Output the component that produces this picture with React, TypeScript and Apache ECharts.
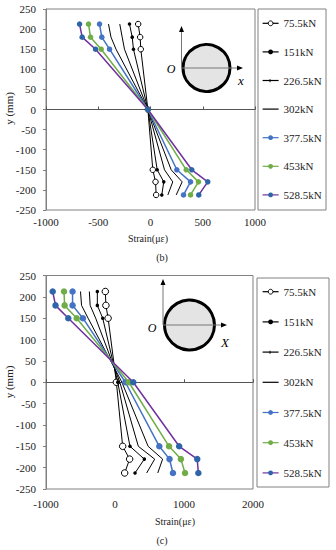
import React, { useEffect, useRef } from 'react';
import * as echarts from 'echarts';

const loads = ['75.5kN', '151kN', '226.5kN', '302kN', '377.5kN', '453kN', '528.5kN'];
const levels = [212.5, 180, 150, 0, -150, -180, -212.5];

// Chart (b) strains (µε) at each level, per load
const b755 = [-118, -99, -93, -25, 22, 48, 54];
const b151 = [-201, -175, -163, -25, 64, 127, 108];
const b2265 = [-294, -271, -249, -25, 134, 213, 166];
const b302 = [-402, -378, -330, -25, 198, 303, 246];
const b3775 = [-488, -466, -392, -25, 252, 383, 316];
const b453 = [-593, -574, -472, -25, 342, 459, 383];
const b5285 = [-679, -654, -526, -25, 395, 548, 462];

// Chart (c) strains (µε)
const c755 = [-140, -132, -100, 20, 111, 212, 140];
const c151 = [-256, -256, -178, 40, 217, 425, 290];
const c2265 = [-372, -360, -280, 70, 338, 575, 459];
const c302 = [-500, -485, -390, 100, 480, 690, 620];
const c3775 = [-615, -615, -465, 150, 642, 790, 840];
const c453 = [-739, -730, -555, 200, 783, 955, 1015];
const c5285 = [-903, -862, -677, 265, 930, 1192, 1208];

const strainsB = [b755, b151, b2265, b302, b3775, b453, b5285];
const strainsC = [c755, c151, c2265, c302, c3775, c453, c5285];

const xTicksB = { min: -1000, max: 1000, interval: 500 };
const xTicksC = { min: -1000, max: 2000, interval: 1000 };
const yTicks = { min: -250, max: 250, interval: 50 };

const FONT = 'Liberation Serif';
const TXT = '#222';
const CLEAR = 'rgba(0,0,0,0)';

function seriesStyle(i: number, big: boolean) {
  const s = big ? 6.5 : 5.5;
  const styles: any[] = [
    { symbol: 'circle', symbolSize: s, itemStyle: { color: '#fff', borderColor: '#000', borderWidth: 1 }, lineStyle: { color: '#000', width: 1 } },
    { symbol: 'circle', symbolSize: 3.5, itemStyle: { color: '#000' }, lineStyle: { color: '#000', width: 1 } },
    { symbol: 'none', itemStyle: { color: CLEAR }, lineStyle: { color: '#000', width: 1 } },
    { symbol: 'none', itemStyle: { color: CLEAR }, lineStyle: { color: '#000', width: 1 } },
    { symbol: 'circle', symbolSize: s, itemStyle: { color: '#4472C4' }, lineStyle: { color: '#4472C4', width: 1.5 } },
    { symbol: 'circle', symbolSize: s, itemStyle: { color: '#70AD47' }, lineStyle: { color: '#70AD47', width: 1.5 } },
    { symbol: 'circle', symbolSize: s, itemStyle: { color: '#2E64A8' }, lineStyle: { color: '#7030A0', width: 1.5 } },
  ];
  return styles[i];
}

function makeSeries(strains: number[][], xIdx: number, yIdx: number, big: boolean) {
  return strains.map((arr, i) => ({
    type: 'line',
    name: loads[i],
    xAxisIndex: xIdx,
    yAxisIndex: yIdx,
    data: arr.map((v, k) => [v, levels[k]]),
    showSymbol: true,
    z: 3 + i,
    ...seriesStyle(i, big),
  }));
}

const plain = (v: number) => String(v);

function mainX(gridIndex: number, ticks: any, margin: number) {
  return {
    type: 'value', gridIndex, ...ticks,
    axisLine: { show: false, onZero: false },
    axisTick: { show: false },
    splitLine: { show: false },
    axisLabel: { fontFamily: FONT, fontSize: 11, color: TXT, margin, formatter: plain },
  };
}
function zeroX(gridIndex: number, ticks: any) {
  return {
    type: 'value', gridIndex, ...ticks, position: 'bottom',
    axisLine: { show: true, onZero: true, lineStyle: { color: '#555', width: 1 } },
    axisTick: { show: true, inside: true, length: 3, lineStyle: { color: '#555' } },
    splitLine: { show: false },
    axisLabel: { show: false },
  };
}
function yAx(gridIndex: number) {
  return {
    type: 'value', gridIndex, ...yTicks,
    axisLine: { show: true, onZero: false, lineStyle: { color: '#808080' } },
    axisTick: { show: true, length: 3, lineStyle: { color: '#808080' } },
    splitLine: { show: false },
    axisLabel: { fontFamily: FONT, fontSize: 11, color: TXT, margin: 10, formatter: plain },
  };
}

function arrowUp(x: number, yTip: number) {
  return { type: 'polygon', shape: { points: [[x, yTip], [x - 2.5, yTip + 6], [x + 2.5, yTip + 6]] }, style: { fill: '#000' }, z: 20 };
}
function arrowRight(xTip: number, y: number) {
  return { type: 'polygon', shape: { points: [[xTip, y], [xTip - 6, y - 2.5], [xTip - 6, y + 2.5]] }, style: { fill: '#000' }, z: 20 };
}

function inset(cx: number, cy: number, r: number, yTop: number, xEnd: number, oPos: number[], xPos: number[], xLabel: string) {
  const left = cx - r - 1.5;
  return [
    { type: 'circle', shape: { cx, cy, r }, style: { fill: '#e4e4e4', stroke: '#000', lineWidth: 3 }, z: 18 },
    { type: 'line', shape: { x1: left, y1: cy, x2: xEnd - 5, y2: cy }, style: { stroke: '#777', lineWidth: 1 }, z: 19 },
    { type: 'line', shape: { x1: left, y1: cy, x2: left, y2: yTop + 5 }, style: { stroke: '#777', lineWidth: 1 }, z: 19 },
    arrowUp(left, yTop),
    arrowRight(xEnd, cy),
    { type: 'text', x: oPos[0], y: oPos[1], style: { text: 'O', font: `italic 12px ${FONT}`, fill: '#000', align: 'center', verticalAlign: 'middle' }, z: 20 },
    { type: 'text', x: xPos[0], y: xPos[1], style: { text: xLabel, font: `italic 13px ${FONT}`, fill: '#000', align: 'center', verticalAlign: 'middle' }, z: 20 },
  ];
}

function txt(x: number, y: number, text: string, size: number, rotation = 0) {
  return { type: 'text', x, y, rotation, style: { text, font: `${size}px ${FONT}`, fill: TXT, align: 'center', verticalAlign: 'middle' }, z: 20 };
}

function tick(x: number, y: number) {
  return { type: 'line', shape: { x1: x, y1: y - 1.5, x2: x, y2: y + 1.5 }, style: { stroke: '#000', lineWidth: 1 }, z: 20 };
}

export default function App() {
  const ref = useRef<HTMLDivElement>(null);
  useEffect(() => {
    if (!ref.current) return;
    const chart = echarts.init(ref.current, null, { renderer: 'svg' });
    const legendCommon = {
      data: loads, orient: 'vertical', left: 262, itemWidth: 16, itemHeight: 6, padding: 0,
      selectedMode: false,
      itemStyle: { borderWidth: 1 },
      lineStyle: { width: 1.2 },
      textStyle: { fontFamily: FONT, fontSize: 11, color: TXT, lineHeight: 12 },
    };
    chart.setOption({
      animation: false,
      backgroundColor: '#fff',
      grid: [
        { left: 46, top: 9, width: 209, height: 201, show: true, borderColor: '#808080', borderWidth: 1 },
        { left: 46, top: 275.5, width: 207, height: 213.5, show: true, borderColor: '#808080', borderWidth: 1 },
      ],
      xAxis: [mainX(0, xTicksB, 6), zeroX(0, xTicksB), mainX(1, xTicksC, 9), zeroX(1, xTicksC)],
      yAxis: [yAx(0), yAx(1)],
      legend: [
        { ...legendCommon, top: 17.3, itemGap: 16.6 },
        { ...legendCommon, top: 285.7, itemGap: 18.2 },
      ],
      series: [...makeSeries(strainsB, 0, 0, false), ...makeSeries(strainsC, 2, 1, true)],
      graphic: [
        { type: 'rect', shape: { x: 258, y: 9, width: 68, height: 201 }, style: { fill: 'none', stroke: '#808080', lineWidth: 1 }, z: 1 },
        { type: 'rect', shape: { x: 257, y: 278, width: 72, height: 209 }, style: { fill: 'none', stroke: '#808080', lineWidth: 1 }, z: 1 },
        ...inset(206.5, 68, 23.5, 26, 243, [171, 69], [241, 80], 'x'),
        ...inset(189.5, 325, 25, 279, 227, [152, 328], [225, 342], 'X'),
        txt(8.5, 108.5, 'y (mm)', 11, Math.PI / 2),
        txt(8.5, 382, 'y (mm)', 11, Math.PI / 2),
        txt(148, 238, 'Strain(με)', 10),
        txt(175, 521.5, 'Strain(με)', 10),
        txt(162, 257.5, '(b)', 10),
        txt(162, 540.5, '(c)', 10),
        tick(270, 80.7),
        tick(270, 352.3),
      ],
    });
    return () => chart.dispose();
  }, []);
  return <div ref={ref} style={{ position: 'absolute', left: 0, top: 0, width: 336, height: 550 }} />;
}
